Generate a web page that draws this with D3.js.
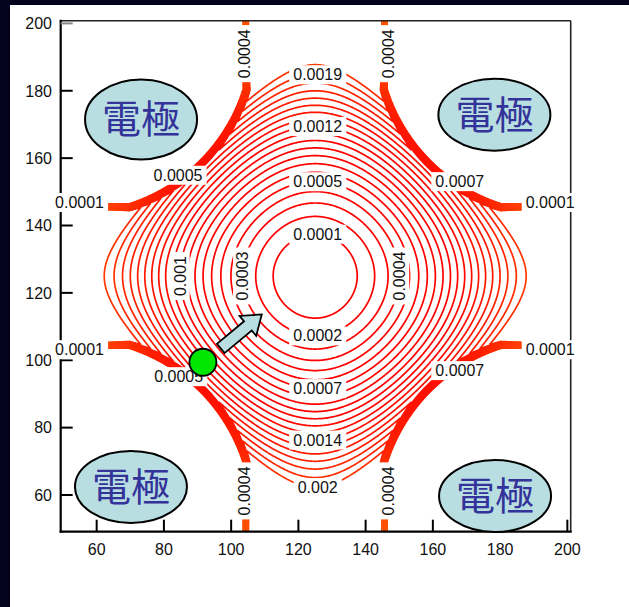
<!DOCTYPE html>
<html>
<head>
<meta charset="utf-8">
<script src="https://cdn.jsdelivr.net/npm/d3@7"></script>
<style>
  html, body { margin: 0; padding: 0; background: #fff; }
  svg { display: block; }
</style>
</head>
<body>
<script>
// Contour levels of the pseudo-potential
const levels = [0.0001, 0.0002, 0.0003, 0.0004, 0.0005, 0.0006, 0.0007, 0.0008, 0.0009, 0.001,
                0.0011, 0.0012, 0.0013, 0.0014, 0.0015, 0.0016, 0.0017, 0.0018, 0.0019, 0.002];

// Axis ticks
const xTicks = [60, 80, 100, 120, 140, 160, 180, 200];
const yTicks = [60, 80, 100, 120, 140, 160, 180, 200];

// Trap model: centre, harmonic coefficient, roll-off radius, corner (octupole) coefficient
const trapCenter = [125, 125];
const harmonicCoef = 6.4e-7;
const rollOffRadius = 93.1;
const cornerCoef = 6.0e-11;

// Electrode geometry: gap half-width, rod centre offset from the gap, rod radius, wall ramp width
const gapHalfWidth = 21.5;
const rodOffset = 50;
const rodRadius = 52.5;
const wallRamp = 2.2;

// Labels on the central rings: level, direction from centre (deg), vertical text
const ringLabelLevels = [0.0019, 0.0012, 0.0005, 0.0001, 0.0002, 0.0007, 0.0014, 0.002, 0.001, 0.0003, 0.0004];
const ringLabelDirs   = [90, 90, 90, 90, 270, 270, 270, 270, 180, 180, 0];
const ringLabelRot    = [false, false, false, false, false, false, false, false, true, true, true];

// Labels on the electrode walls: text, x, y, vertical text
const wallLabelText = ["0.0004", "0.0004", "0.0004", "0.0004", "0.0001", "0.0001", "0.0001", "0.0001",
                       "0.0005", "0.0007", "0.0005", "0.0007"];
const wallLabelX = [103.8, 146.6, 103.8, 146.6, 54.9, 194.9, 54.9, 194.9, 84.2, 168.0, 84.4, 168.0];
const wallLabelY = [191.0, 191.0, 61.2, 61.2, 146.9, 146.9, 103.2, 103.2, 155.0, 153.1, 95.2, 97.0];
const wallLabelRot = [true, true, true, true, false, false, false, false, false, false, false, false];

// Electrode markers
const electrodeText = ["電極", "電極", "電極", "電極"];
const electrodeX = [73.2, 178.3, 70.2, 178.5];
const electrodeY = [171.5, 172.9, 62.4, 59.7];

// Ion and its direction of motion
const ionPos = [91.6, 99.4];
const ionArrowFrom = [96.9, 103.5];
const ionArrowTo = [109.1, 113.6];

const W = 629, H = 607;
const plot = { left: 60.7, right: 570.7, top: 20.7, bottom: 531.7 };

const x = d3.scaleLinear().domain([49.3, 201.0]).range([plot.left, plot.right]);
const y = d3.scaleLinear().domain([49.1, 200.8]).range([plot.bottom, plot.top]);

const svg = d3.select("body").append("svg").attr("width", W).attr("height", H);

// page frame
svg.append("rect").attr("width", W).attr("height", H).attr("fill", "#ffffff");
svg.append("rect").attr("x", 0).attr("y", 0).attr("width", W).attr("height", 5).attr("fill", "#03031e");
svg.append("rect").attr("x", 0).attr("y", 0).attr("width", 10).attr("height", H).attr("fill", "#03031e");

const defs = svg.append("defs");
defs.append("clipPath").attr("id", "plotClip")
  .append("rect")
  .attr("x", plot.left).attr("y", plot.top)
  .attr("width", plot.right - plot.left).attr("height", plot.bottom - plot.top);

// line colour shifts from red to orange away from the trap centre
const cx0 = x(trapCenter[0]), cy0 = y(trapCenter[1]);
const pxPerUnit = x(1) - x(0);
const grad = defs.append("radialGradient").attr("id", "lineGrad")
  .attr("gradientUnits", "userSpaceOnUse")
  .attr("cx", cx0).attr("cy", cy0).attr("r", 90 * pxPerUnit);
[[0, "#ff0000"], [0.45, "#ff0000"], [0.6, "#ff1e00"], [0.72, "#ff4000"], [1, "#ff6000"]]
  .forEach(([o, c]) => grad.append("stop").attr("offset", o).attr("stop-color", c));

// ---- potential field ----
const R0sq = rollOffRadius * rollOffRadius;
const r2Max = R0sq / Math.sqrt(3);
function potential(px, py) {
  const dx = px - trapCenter[0], dy = py - trapCenter[1];
  const r2 = Math.min(dx * dx + dy * dy, r2Max);
  return harmonicCoef * r2 * (1 - (r2 * r2) / (R0sq * R0sq)) + 4 * cornerCoef * dx * dx * dy * dy;
}
function wallDistance(px, py) {
  const u = Math.abs(px - trapCenter[0]) - gapHalfWidth;
  const v = Math.abs(py - trapCenter[1]) - gapHalfWidth;
  const D = Math.hypot(u - rodOffset, v - rodOffset);
  return Math.max(D - rodRadius, -u, -v);
}

const g0 = 47, g1 = 203, h = 0.25;
const n = Math.round((g1 - g0) / h) + 1;
const values = new Float64Array(n * n);
for (let j = 0; j < n; j++) {
  const py = g0 + j * h;
  for (let i = 0; i < n; i++) {
    const px = g0 + i * h;
    const d = wallDistance(px, py);
    const s = Math.max(0, Math.min(1, d / wallRamp));
    values[j * n + i] = potential(px, py) * s;
  }
}

const contours = d3.contours().size([n, n]).thresholds(levels)(values);
const proj = d3.geoTransform({
  point(gx, gy) {
    this.stream.point(x(g0 + (gx - 0.5) * h), y(g0 + (gy - 0.5) * h));
  }
});
const path = d3.geoPath(proj);

svg.append("g").attr("clip-path", "url(#plotClip)")
  .selectAll("path")
  .data(contours)
  .join("path")
  .attr("d", path)
  .attr("fill", "none")
  .attr("stroke", "url(#lineGrad)")
  .attr("stroke-width", 1.7)
  .attr("stroke-linejoin", "round");

// ---- axes ----
const axisG = svg.append("g");
axisG.append("line").attr("x1", plot.left).attr("x2", plot.right).attr("y1", plot.top).attr("y2", plot.top)
  .attr("stroke", "#222").attr("stroke-width", 1.6);
axisG.append("line").attr("x1", plot.right).attr("x2", plot.right).attr("y1", plot.top).attr("y2", plot.bottom)
  .attr("stroke", "#222").attr("stroke-width", 1.6);
axisG.append("line").attr("x1", plot.left).attr("x2", plot.left).attr("y1", plot.top - 1).attr("y2", plot.bottom + 1)
  .attr("stroke", "#000").attr("stroke-width", 2.2);
axisG.append("line").attr("x1", plot.left - 1).attr("x2", plot.right + 1).attr("y1", plot.bottom).attr("y2", plot.bottom)
  .attr("stroke", "#000").attr("stroke-width", 2.2);

const tickFont = "'Liberation Sans', Arial, sans-serif";
xTicks.forEach(t => {
  axisG.append("line").attr("x1", x(t)).attr("x2", x(t)).attr("y1", plot.bottom).attr("y2", plot.bottom - 12)
    .attr("stroke", "#000").attr("stroke-width", 2);
  axisG.append("text").attr("x", x(t)).attr("y", plot.bottom + 23)
    .attr("text-anchor", "middle").attr("font-family", tickFont).attr("font-size", 16)
    .attr("fill", "#111").text(t);
});
yTicks.forEach(t => {
  axisG.append("line").attr("x1", plot.left).attr("x2", plot.left + 12).attr("y1", y(t)).attr("y2", y(t))
    .attr("stroke", t === 200 ? "#888" : "#000").attr("stroke-width", 2);
  axisG.append("text").attr("x", 52).attr("y", y(t)).attr("dy", "0.36em")
    .attr("text-anchor", "end").attr("font-family", tickFont).attr("font-size", 16)
    .attr("fill", "#111").text(t);
});

// ---- contour labels ----
const labelG = svg.append("g");
function addLabel(text, px, py, rotated) {
  const g = labelG.append("g")
    .attr("transform", `translate(${px},${py})` + (rotated ? " rotate(-90)" : ""));
  const rect = g.append("rect").attr("fill", "#fff");
  const t = g.append("text").attr("text-anchor", "middle").attr("dy", "0.36em")
    .attr("font-family", tickFont).attr("font-size", 16).attr("fill", "#111").text(text);
  const bb = t.node().getBBox();
  rect.attr("x", bb.x - 4).attr("y", bb.y - 1).attr("width", bb.width + 8).attr("height", bb.height + 2);
}

// place each ring label on its own contour along the given direction
function radiusForLevel(level, dirDeg) {
  const a = dirDeg * Math.PI / 180;
  let lo = 0, hi = 70;
  for (let k = 0; k < 60; k++) {
    const mid = (lo + hi) / 2;
    const v = potential(trapCenter[0] + mid * Math.cos(a), trapCenter[1] + mid * Math.sin(a));
    if (v < level) lo = mid; else hi = mid;
  }
  return (lo + hi) / 2;
}
ringLabelLevels.forEach((lv, i) => {
  const dir = ringLabelDirs[i];
  const r = radiusForLevel(lv, dir);
  const a = dir * Math.PI / 180;
  const dxp = ringLabelRot[i] ? 0 : 2.5;
  addLabel(String(lv), x(trapCenter[0] + r * Math.cos(a)) + dxp, y(trapCenter[1] + r * Math.sin(a)), ringLabelRot[i]);
});
wallLabelText.forEach((txt, i) => addLabel(txt, x(wallLabelX[i]), y(wallLabelY[i]), wallLabelRot[i]));

// ---- electrodes ----
const elG = svg.append("g");
const elRy = [40, 36, 36, 36];
electrodeText.forEach((txt, i) => {
  const ex = x(electrodeX[i]), ey = y(electrodeY[i]);
  elG.append("ellipse").attr("cx", ex).attr("cy", ey).attr("rx", 56).attr("ry", elRy[i])
    .attr("fill", "#b9dee2").attr("stroke", "#000").attr("stroke-width", 2);
  elG.append("text").attr("x", ex).attr("y", ey).attr("dy", "0.36em")
    .attr("text-anchor", "middle")
    .attr("font-family", "'Noto Sans CJK JP', sans-serif").attr("font-size", 39)
    .attr("fill", "#33339a").text(txt);
});

// ---- ion and arrow ----
const ax0 = x(ionArrowFrom[0]), ay0 = y(ionArrowFrom[1]);
const ax1 = x(ionArrowTo[0]), ay1 = y(ionArrowTo[1]);
const len = Math.hypot(ax1 - ax0, ay1 - ay0);
const ang = Math.atan2(ay1 - ay0, ax1 - ax0) * 180 / Math.PI;
const headL = 18, headW = 13, shaftW = 6;
const arrowPts = [[0, -shaftW], [len - headL, -shaftW], [len - headL, -headW], [len, 0],
                  [len - headL, headW], [len - headL, shaftW], [0, shaftW]];
svg.append("polygon")
  .attr("points", arrowPts.map(p => p.join(",")).join(" "))
  .attr("transform", `translate(${ax0},${ay0}) rotate(${ang})`)
  .attr("fill", "#b9dee2").attr("stroke", "#000").attr("stroke-width", 1.8)
  .attr("stroke-linejoin", "miter");

svg.append("circle").attr("cx", x(ionPos[0])).attr("cy", y(ionPos[1])).attr("r", 13.5)
  .attr("fill", "#00e600").attr("stroke", "#000").attr("stroke-width", 1.8);
</script>
</body>
</html>
